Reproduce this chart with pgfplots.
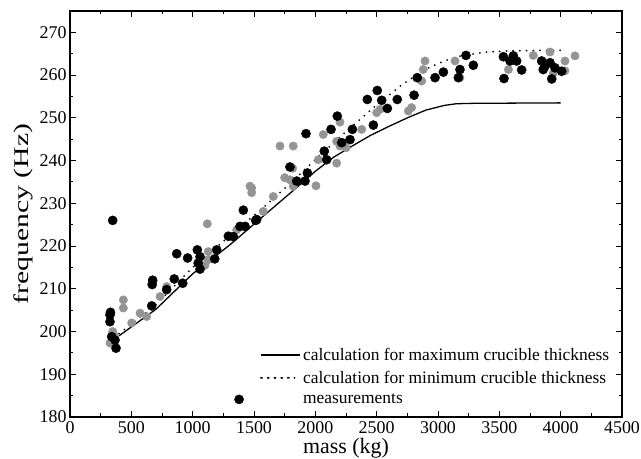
\documentclass[border=0pt]{standalone}
\usepackage{fontspec}
\setmainfont{Liberation Serif}
\usepackage{graphicx}
\usepackage{pgfplots}
\pgfplotsset{compat=1.18}
\pgfplotsset{
  mylinelegend/.style={legend image code/.code={\path (0bp,0bp) -- (39bp,0bp); \draw[##1] (1bp,0bp) -- (32bp,0bp);}},
  mydotlegend/.style={legend image code/.code={\path[draw=none,fill=none] (0bp,0bp) -- (39bp,0bp); \fill[black,overlay] (-22bp,0bp) circle (4.6bp);}},
}
\begin{document}
\begin{tikzpicture}
\begin{axis}[name=ax,
  scale only axis, width=552bp, height=406bp,
  xmin=0, xmax=4500, ymin=180, ymax=275,
  xtick={0,500,...,4500}, ytick={180,190,...,270},
  minor x tick num=1, minor y tick num=1,
  xtick pos=both, ytick pos=both,
  tick align=inside, major tick length=6bp, minor tick length=3.5bp,
  every tick/.style={black, line width=0.9pt},
  axis line style={line width=1.3pt},
  scaled x ticks=false, scaled y ticks=false,
  /pgf/number format/1000 sep={},
  /pgf/number format/assume math mode=true,
  tick label style={font=\fontsize{18}{20}\selectfont},
  xticklabel style={yshift=-1.5bp},
  xlabel style={font=\fontsize{22}{25}\selectfont, yshift=2.5bp},
  ylabel style={font=\fontsize{21}{24}\selectfont, yshift=0bp},
  xlabel={mass (kg)}, ylabel={\scalebox{1.42}[1]{frequency (Hz)}},
  legend cell align=left,
  legend style={draw=none, fill=none, at={(rel axis cs:0.344,0.024)}, anchor=south west,
    inner sep=0pt, row sep=5bp, font=\fontsize{17.5}{20}\selectfont,
    nodes={inner sep=2bp}},
]
% gray (halftone) measurements
\addplot[only marks, mark=*, mark size=4.2bp, mark options={fill=black!42, draw=black!42}, forget plot] coordinates {
(1481,233.6)(1481,232.5)(1119,225.2)(435,207.4)(435,205.5)(348,200)(360,199)(326,197.3)
(503,202)(571,204.3)(625,203.5)(734,208.2)(788,210.5)(1127,218.7)(1127,216.8)(1100,215.5)
(1359,223.8)(1576,228.1)(1712,243.4)(1820,243.4)(1467,234)(1657,231.6)(1793,235.5)
(1820,234)(1815,238.2)(2005,234.1)(2174,239.4)(2024,240.2)(2174,244.5)(2201,243.4)
(2065,246.1)(2378,247.3)(2201,249)(2500,251.2)(2894,263.3)(2880,261.3)(2867,258.6)
(3139,263.3)(3179,259.4)(3574,261.3)(3777,264.6)(3913,265.4)(4035,263.3)(4117,264.5)
(3940,260.5)(4035,261)(2758,251.6)(2785,252.4)(2527,252)(1750,236)(2250,243)
};
% max thickness
\addplot[black, line width=1.3pt, mylinelegend] coordinates {
(400,199)(700,205.2)(1000,213.5)(1300,220.2)(1600,227.6)(1800,232.5)(2000,237.5)
(2150,240.8)(2300,243.4)(2450,245.9)(2600,248)(2750,250)(2900,251.8)(3050,252.9)
(3150,253.3)(3300,253.4)(4000,253.5)};
\addlegendentry{calculation for maximum crucible thickness}
% min thickness
\addplot[black, line width=2bp, line cap=round, dash pattern=on 0pt off 6.7bp, mylinelegend] coordinates {
(400,199.5)(700,206.3)(1000,215)(1300,222.3)(1600,229.6)(1800,234.8)(2000,240.2)
(2250,246.8)(2500,253)(2700,257.6)(2900,261.4)(3050,263.3)(3200,264.6)(3400,265.4)
(3600,265.7)(4000,265.8)};
\addlegendentry{calculation for minimum crucible thickness}
% black measurements
\addplot[only marks, mark=*, mark size=4.6bp, mark options={fill=black, draw=black}, mydotlegend] coordinates {
(348,226.0)(870,218.2)(959,217.2)(850,212.3)(919,211.3)(674,212)(670,211)
(1038,219.1)(1060,217.5)(1060,214.6)(1045,216)(1196,219.1)(1180,217)(1291,222.3)
(1413,228.4)(1386,224.6)(1427,224.6)(1514,226)(1522,226.2)(1331,222.2)
(326,203.9)(326,202.3)(330,204.5)(367,198)(375,196.1)(340,198.8)(666,206)(788,209.8)
(1924,246.3)(1935,237.1)(1916,235.2)(1848,235.2)(1793,238.5)(2179,250.4)(2128,247.3)
(2302,247.3)(2283,244.9)(2215,244.2)(2073,242.2)(2092,240.2)(2424,254.3)(2505,256.4)
(2541,254.1)(2587,252.2)(2473,248.3)(2668,254.3)(2805,255.3)(2831,259.4)
(2976,259.4)(3044,260.7)(3166,259.4)(3179,261.3)(3228,264.6)(3288,262.3)(3533,264.3)
(3587,263.3)(3614,264.5)(3641,263.3)(3682,261.2)(3538,259.2)(3845,263.3)(3858,261.3)
(3872,262.1)(3913,262.9)(3954,261.7)(4008,260.9)(3927,259.1)
};
\addlegendentry{measurements}
\end{axis}
\pgfresetboundingbox
\path[use as bounding box] (ax.south west) ++(-70bp,-42bp) rectangle ++(641bp,459bp);
\end{tikzpicture}
\end{document}
